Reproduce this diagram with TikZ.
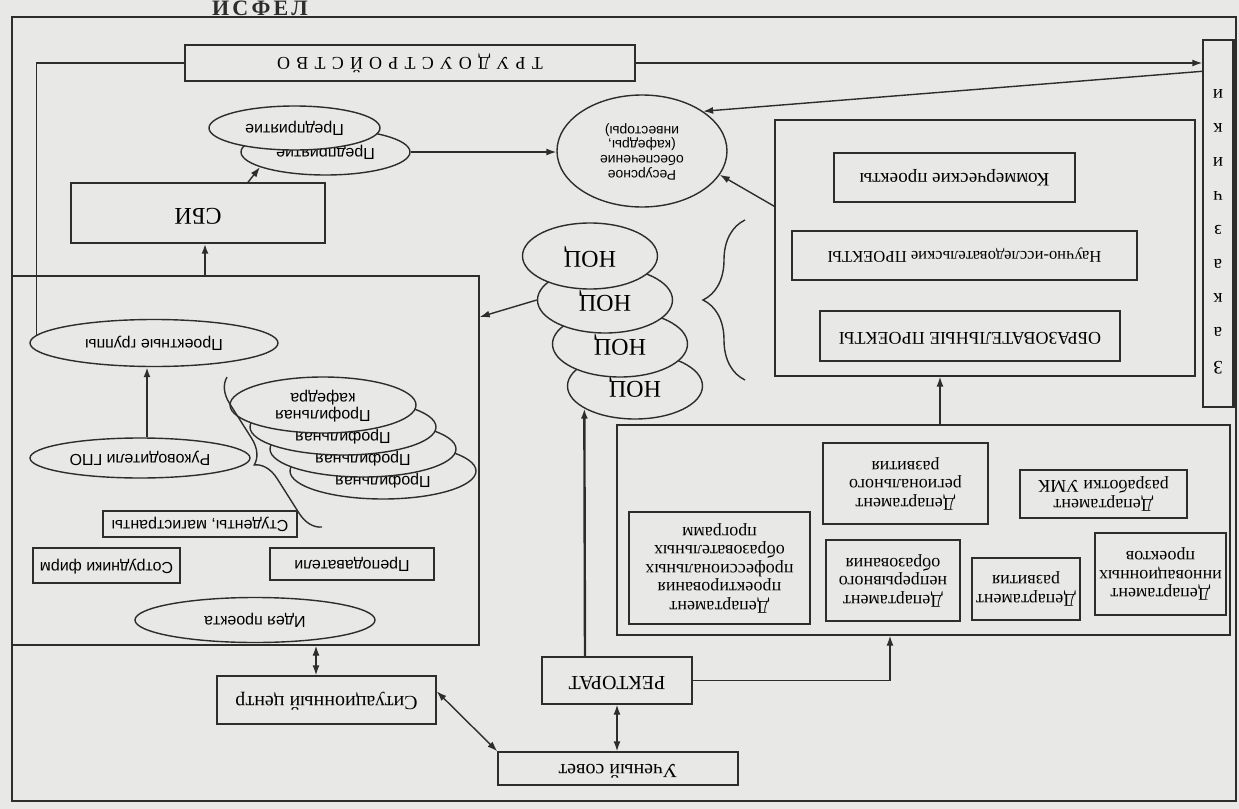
\documentclass[tikz,border=0pt]{standalone}
\usepackage{fontspec}
\setmainfont{Liberation Serif}
\newfontfamily\sans{Liberation Sans}
\usepackage{graphicx}
\usetikzlibrary{arrows.meta,calc,decorations.pathreplacing,shapes.geometric}
\definecolor{paper}{RGB}{232,232,230}
\definecolor{ink}{RGB}{45,45,45}
\newcommand\R[1]{\rotatebox{180}{\begin{tabular}{@{}c@{}}#1\end{tabular}}}
\newcommand\lsp{\hspace{3.1pt}}
\newcommand\tsp{\hspace{1.6pt}}
\begin{document}
\begin{tikzpicture}[x=0.5pt,y=-0.5pt,
  bx/.style={draw=ink, line width=0.7pt, rectangle, inner sep=0pt, fill=paper},
  el/.style={draw=ink, line width=0.7pt, ellipse, inner sep=0pt, fill=paper},
  ser/.style={font=\fontsize{9}{9.3}\selectfont},
  ss/.style={font=\sans\fontsize{8}{8.5}\selectfont},
  ln/.style={draw=ink, line width=0.7pt},
  ar/.style={ln, -{Latex[length=5pt,width=3.5pt]}},
  dar/.style={ln, {Latex[length=5pt,width=3.5pt]}-{Latex[length=5pt,width=3.5pt]}},
  thk/.style={line width=1.2pt},
  brc/.style={draw=ink, line width=0.7pt, decorate}
]
\useasboundingbox[fill=paper] (0,0) rectangle (1239,809);
% heading fragment at the top edge
\node[anchor=base, inner sep=0pt, text=ink, font=\bfseries\fontsize{11}{11}\selectfont] (ttl) at (260,15) {И\tsp С\tsp Ф\tsp Е\tsp Л};
% frames
\node[draw=ink, line width=0.7pt, rectangle, inner sep=0pt, minimum width=612pt, minimum height=392pt] (frame) at (624,409) {};
\node[bx, minimum width=233.5pt, minimum height=184.5pt] (lbox) at (245.5,460.5) {};
\node[bx, minimum width=210pt, minimum height=128pt] (proj) at (985,248) {};
\node[bx, minimum width=306.5pt, minimum height=105pt] (dept) at (923.5,530) {};
% top
\node[bx, minimum width=225pt, minimum height=18pt, ser] (trud) at (410,63)
  {\rotatebox{180}{Т\lsp Р\lsp У\lsp Д\lsp О\lsp У\lsp С\lsp Т\lsp Р\lsp О\lsp Й\lsp С\lsp Т\lsp В\lsp О}};
\node[bx, minimum width=15pt, minimum height=183.5pt, font=\fontsize{9.5}{17}\selectfont] (zak) at (1218,223.5)
  {\R{З\\а\\к\\а\\з\\ч\\и\\к\\и\\[9pt]}};
\draw[ink, line width=1.2pt] (zak.north east) -- (zak.south east);
\node[bx, minimum width=127pt, minimum height=30pt, font=\fontsize{12}{12}\selectfont] (sbi) at (198,213) {\R{СБИ}};
\node[el, minimum width=84.5pt, minimum height=23pt, ss] (pred2) at (325.5,152) {\R{Предприятие}};
\node[el, minimum width=85.5pt, minimum height=22pt, ss] (pred1) at (294.5,128) {\R{Предприятие}};
\node[el, minimum width=85pt, minimum height=56pt, font=\sans\fontsize{7}{7.3}\selectfont] (resurs) at (642,151)
  {\R{Ресурсное\\обеспечение\\(кафедры,\\инвесторы)}};
% projects
\node[bx, minimum width=120.5pt, minimum height=24.5pt, font=\fontsize{9.5}{10}\selectfont] (komm) at (954.5,177.5) {\R{Коммерческие проекты}};
\node[bx, minimum width=172.5pt, minimum height=24.5pt, font=\fontsize{8.3}{9}\selectfont] (nauch) at (964.5,255.5) {\R{Научно-исследовательские ПРОЕКТЫ\hspace{22pt}}};
\node[bx, minimum width=150pt, minimum height=25pt, ser] (obr) at (970,336) {\R{ОБРАЗОВАТЕЛЬНЫЕ ПРОЕКТЫ}};
% departments
\node[bx, minimum width=90.5pt, minimum height=56pt, ser] (dprog) at (719.5,568) {\R{Департамент\\проектирования\\профессиональных\\образовательных\\программ}};
\node[bx, minimum width=67pt, minimum height=40.5pt, ser] (dnepr) at (893,580.5) {\R{Департамент\\непрерывного\\образования}};
\node[bx, minimum width=54pt, minimum height=31pt, ser] (drazv) at (1026,589) {\R{Департамент\\развития}};
\node[bx, minimum width=65.5pt, minimum height=41pt, ser] (dinnov) at (1160.5,574) {\R{Департамент\\инновационных\\проектов}};
\node[bx, minimum width=82.5pt, minimum height=40.5pt, ser] (dreg) at (905.5,483.5) {\R{Департамент\\регионального\\развития}};
\node[bx, minimum width=83.5pt, minimum height=24pt, ser] (dumk) at (1103.5,494) {\R{Департамент\\разработки УМК}};
% bottom
\node[bx, minimum width=75pt, minimum height=23.5pt, font=\fontsize{10}{10}\selectfont] (rekt) at (617,680.5) {\R{РЕКТОРАТ}};
\node[bx, minimum width=120pt, minimum height=16.5pt, font=\fontsize{10}{10}\selectfont] (uch) at (618,768.5) {\R{Ученый совет}};
\node[bx, minimum width=109.5pt, minimum height=24pt, font=\fontsize{10}{10}\selectfont] (sit) at (326.5,700) {\R{Ситуационный центр}};
% left box contents
\node[el, minimum width=124pt, minimum height=23.5pt, ss] (pgr) at (154,343) {\R{Проектные группы}};
\node[el, minimum width=110pt, minimum height=20pt, ss] (ruk) at (140,458) {\R{Руководители ГПО}};
\node[el, minimum width=120pt, minimum height=22.5pt, ss] (ideya) at (255,620) {\R{Идея проекта}};
\node[bx, minimum width=97pt, minimum height=13pt, ss] (stud) at (200,524) {\R{Студенты, магистранты}};
\node[bx, minimum width=73.5pt, minimum height=17.5pt, ss] (sotr) at (106.5,565.5) {\R{Сотрудники фирм}};
\node[bx, minimum width=82pt, minimum height=16pt, ss] (prep) at (352,564) {\R{Преподаватели}};
\node[el, minimum width=93pt, minimum height=28pt, ss] (prof4) at (383,471) {\R{Профильная\\\phantom{кафедра}}};
\node[el, minimum width=93pt, minimum height=28pt, ss] (prof3) at (363,449) {\R{Профильная\\\phantom{кафедра}}};
\node[el, minimum width=93pt, minimum height=28pt, ss] (prof2) at (343,427) {\R{Профильная\\\phantom{кафедра}}};
\node[el, minimum width=93pt, minimum height=28pt, ss] (prof1) at (323,405) {\R{Профильная\\кафедра}};
% NOC stack
\node[el, minimum width=67.5pt, minimum height=33pt, font=\fontsize{12}{12}\selectfont] (noc4) at (635,386) {\R{НОЦ}};
\node[el, minimum width=67.5pt, minimum height=33pt, font=\fontsize{12}{12}\selectfont] (noc3) at (620,344) {\R{НОЦ}};
\node[el, minimum width=67.5pt, minimum height=33pt, font=\fontsize{12}{12}\selectfont] (noc2) at (605,300) {\R{НОЦ}};
\node[el, minimum width=67.5pt, minimum height=33pt, font=\fontsize{12}{12}\selectfont] (noc1) at (590,256) {\R{НОЦ}};
% braces
\draw[brc, decoration={brace, amplitude=21pt}] (745,380) -- (745,220);
\draw[brc, decoration={brace, amplitude=12pt}] (322,527) -- (227,377);
% connectors
\coordinate (c1) at (205,0);
\coordinate (c2) at (316,0);
\coordinate (c3) at (940,0);
\coordinate (c4) at (147,0);
\draw[ln] (trud.west) -| (pgr.176);
\draw[ar] (trud.east) -- (trud.east -| zak.west);
\draw[ar] ([yshift=-16pt]zak.north west) -- (resurs.33);
\draw[ar] (pred2.east) -- (pred2.east -| resurs.west);
\draw[ar] ([yshift=-43.5pt]proj.north west) -- (resurs.-17);
\draw[ar] ([xshift=25pt]sbi.north) -- (pred2.193);
\draw[ar,thk] (lbox.north -| c1) -- (sbi.south -| c1);
\draw[dar] (lbox.south -| c2) -- (sit.north -| c2);
\draw[dar] ([yshift=-8pt]sit.north east) -- (uch.north west);
\draw[dar] (rekt.south) -- (rekt.south |- uch.north);
\draw[ar,thk] ([xshift=-16pt]rekt.north) -- (noc4.204);
\draw[ar] (rekt.east) -| ([xshift=-16.75pt]dept.south);
\draw[ar] (dept.north -| c3) -- (proj.south -| c3);
\draw[ar] (noc2.west) -- ([yshift=71.75pt]lbox.east);
\draw[ar,thk] (ruk.north -| c4) -- (pgr.south -| c4);
\end{tikzpicture}
\end{document}
